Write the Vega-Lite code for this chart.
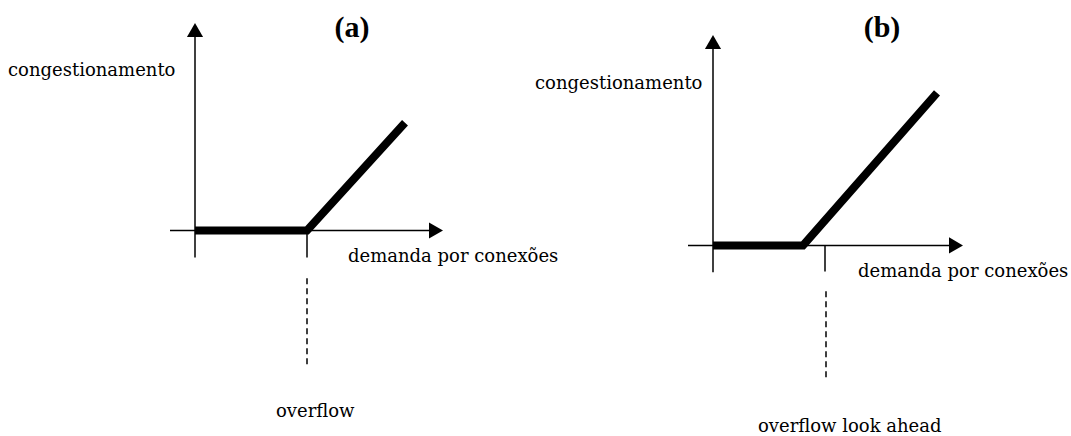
{
  "$schema": "https://vega.github.io/schema/vega-lite/v6.json",
  "width": 1071,
  "height": 436,
  "autosize": {"type": "fit", "contains": "padding"},
  "padding": 0,
  "background": "white",
  "config": {"view": {"stroke": null}},
  "datasets": {
    "axes": [
      {"panel": "a", "x": 195, "y": 178, "x2": 195, "y2": 401},
      {"panel": "a", "x": 170, "y": 205, "x2": 430, "y2": 205},
      {"panel": "b", "x": 713, "y": 163, "x2": 713, "y2": 388},
      {"panel": "b", "x": 688, "y": 190, "x2": 950, "y2": 190},
      {"panel": "a", "x": 307, "y": 178, "x2": 307, "y2": 205},
      {"panel": "b", "x": 825, "y": 164, "x2": 825, "y2": 190}
    ],
    "upArrows": [
      {"panel": "a", "x": 195, "y": 406},
      {"panel": "b", "x": 713, "y": 394}
    ],
    "rightArrows": [
      {"panel": "a", "x": 436, "y": 205},
      {"panel": "b", "x": 956, "y": 190}
    ],
    "curve": [
      {"panel": "a", "order": 1, "x": 195, "y": 205},
      {"panel": "a", "order": 2, "x": 307, "y": 205},
      {"panel": "a", "order": 3, "x": 405, "y": 313},
      {"panel": "b", "order": 1, "x": 713, "y": 190},
      {"panel": "b", "order": 2, "x": 803, "y": 190},
      {"panel": "b", "order": 3, "x": 937, "y": 343}
    ],
    "dashed": [
      {"panel": "a", "x": 307, "y": 71, "x2": 307, "y2": 159},
      {"panel": "b", "x": 826, "y": 58, "x2": 826, "y2": 146}
    ],
    "labels": [
      {"text": "congestionamento", "x": 8, "y": 360},
      {"text": "congestionamento", "x": 535, "y": 347},
      {"text": "demanda por conexões", "x": 348, "y": 173},
      {"text": "demanda por conexões", "x": 858, "y": 158},
      {"text": "overflow", "x": 276, "y": 18},
      {"text": "overflow look ahead", "x": 758, "y": 3}
    ],
    "titles": [
      {"text": "(a)", "x": 352, "y": 399},
      {"text": "(b)", "x": 882, "y": 399}
    ]
  },
  "encoding": {
    "x": {"field": "x", "type": "quantitative", "scale": {"domain": [0, 1071], "nice": false, "zero": false}, "axis": null},
    "y": {"field": "y", "type": "quantitative", "scale": {"domain": [0, 436], "nice": false, "zero": false}, "axis": null}
  },
  "layer": [
    {
      "data": {"name": "axes"},
      "mark": {"type": "rule", "color": "black", "strokeWidth": 1.5},
      "encoding": {"x2": {"field": "x2"}, "y2": {"field": "y2"}}
    },
    {
      "data": {"name": "dashed"},
      "mark": {"type": "rule", "color": "black", "strokeWidth": 1.5, "strokeDash": [6, 4]},
      "encoding": {"x2": {"field": "x2"}, "y2": {"field": "y2"}}
    },
    {
      "data": {"name": "curve"},
      "mark": {"type": "line", "color": "black", "strokeWidth": 8, "strokeJoin": "miter", "strokeCap": "butt"},
      "encoding": {"detail": {"field": "panel"}, "order": {"field": "order", "type": "quantitative"}}
    },
    {
      "data": {"name": "upArrows"},
      "mark": {"type": "point", "shape": "triangle-up", "filled": true, "color": "black", "opacity": 1, "size": 260}
    },
    {
      "data": {"name": "rightArrows"},
      "mark": {"type": "point", "shape": "triangle-right", "filled": true, "color": "black", "opacity": 1, "size": 260}
    },
    {
      "data": {"name": "labels"},
      "mark": {"type": "text", "align": "left", "baseline": "alphabetic", "font": "DejaVu Serif", "fontSize": 18, "color": "black"},
      "encoding": {"text": {"field": "text"}}
    },
    {
      "data": {"name": "titles"},
      "mark": {"type": "text", "align": "center", "baseline": "alphabetic", "font": "Liberation Serif", "fontWeight": "bold", "fontSize": 30, "color": "black"},
      "encoding": {"text": {"field": "text"}}
    }
  ]
}
